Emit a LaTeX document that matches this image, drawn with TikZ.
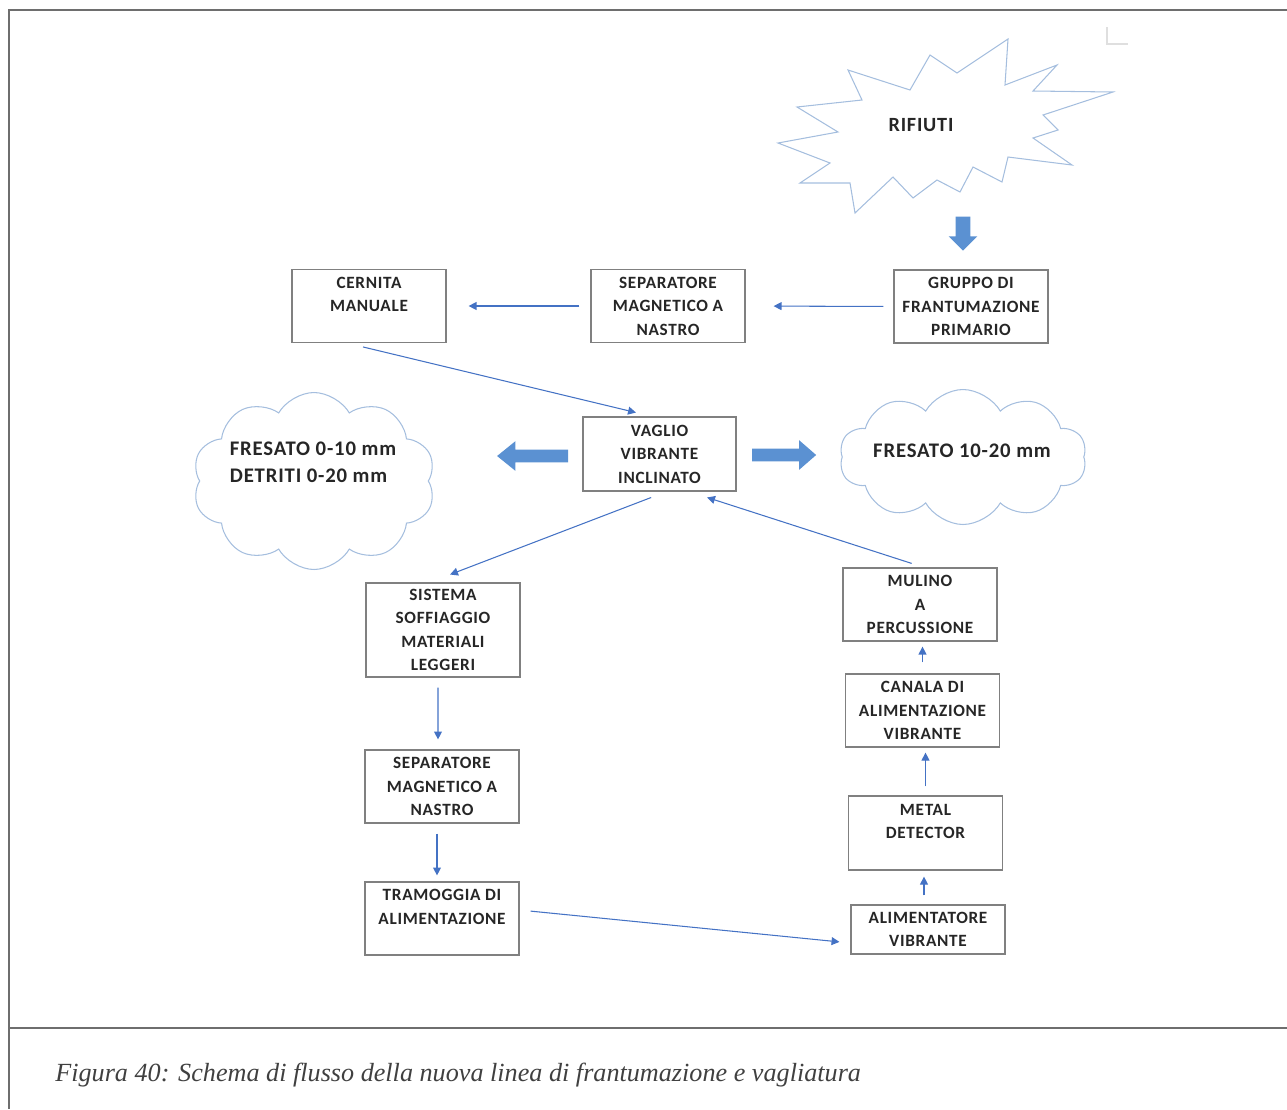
\documentclass[tikz,border=0pt]{standalone}
\usepackage{fontspec}
\usepackage{tikz}
\usetikzlibrary{shapes.symbols, shapes.arrows, arrows.meta}
\newfontfamily\boxfont[LetterSpace=4]{Carlito}
\newfontfamily\capfont{Liberation Serif}
\definecolor{flowblue}{RGB}{68,114,196}
\definecolor{fatblue}{RGB}{91,145,210}
\definecolor{cloudblue}{RGB}{165,190,222}
\definecolor{boxgray}{RGB}{128,128,128}
\definecolor{framegray}{RGB}{110,110,110}

\begin{document}
\begin{tikzpicture}[
  x=0.02cm, y=-0.02cm,
  block/.style={rectangle, draw=boxgray, line width=0.7pt, fill=white,
                minimum width=3.08cm, minimum height=1.46cm, inner sep=2pt,
                align=center, text=black!85,
                font=\boxfont\bfseries\fontsize{9.8}{13.4}\selectfont},
  puff/.style={cloud, cloud puffs=10, cloud puff arc=120, cloud ignores aspect,
               draw=cloudblue, line width=0.6pt},
  puffText/.style={align=left, text=black!85,
                   font=\boxfont\bfseries\fontsize{11.8}{15.5}\selectfont},
  fat/.style={single arrow, fill=fatblue, draw=none,
              single arrow head indent=0pt},
  flow/.style={-{Triangle[length=4.5pt, width=4.5pt]}, draw=flowblue, line width=0.6pt}
]
  \useasboundingbox (0,0) rectangle (1287,1109);

  % frame and caption
  \draw[framegray, line width=1.1pt] (1287,10) -- (9,10) -- (9,1109);
  \draw[framegray, line width=1.1pt] (9,1028) -- (1287,1028);
  \draw[gray!25, line width=0.6pt] (1107,27) -- (1107,44) -- (1128,44);
  \node[anchor=base west, inner sep=0pt, text=black!75,
        font=\capfont\itshape\fontsize{14.9}{18}\selectfont] (caption) at (55,1081)
    {Figura 40: Schema di flusso della nuova linea di frantumazione e vagliatura};

  % rifiuti
  \draw[cloudblue, line width=0.6pt]
    (1008,39) -- (1005,85) -- (1057,65) -- (1033,91) -- (1113,92) -- (1043,115)
    -- (1058,130) -- (1033,138) -- (1072,165) -- (1008,157) -- (1002,182)
    -- (973,167) -- (960,192) -- (937,180) -- (913,198) -- (893,177) -- (855,213)
    -- (850,183) -- (800,183) -- (830,163) -- (778,143) -- (838,132) -- (797,107)
    -- (862,100) -- (848,70) -- (910,90) -- (930,55) -- (957,73) -- cycle;
  \node[text=black!85, font=\boxfont\bfseries\fontsize{11.5}{14}\selectfont] (rifiuti) at (921,125) {RIFIUTI};
  \node[fat, shape border rotate=270, inner sep=0.14cm, minimum height=0.68cm,
        single arrow head extend=0.14cm] (down) at (963,230) {};

  % top row
  \node[block] (gruppo) at (971,306.5) {GRUPPO DI\\FRANTUMAZIONE\\PRIMARIO};
  \node[block] (sep1)   at (668,306)   {SEPARATORE\\MAGNETICO A\\NASTRO};
  \node[block] (cernita) at (369,306)  {CERNITA\\MANUALE\\~};

  % vaglio and outputs
  \node[block, minimum width=3.06cm, minimum height=1.48cm] (vaglio) at (659.5,454)
    {VAGLIO\\VIBRANTE\\INCLINATO};
  \node[puff, minimum width=4.86cm, minimum height=3.54cm] (fine) at (314,481) {};
  \node[puffText] (fineTxt) at (313,462) {FRESATO 0-10 mm\\DETRITI 0-20 mm};
  \node[puff, minimum width=4.94cm, minimum height=2.7cm] (coarse) at (963,457) {};
  \node[puffText] (coarseTxt) at (962,451) {FRESATO 10-20 mm};
  \node[fat, shape border rotate=180, inner sep=0.12cm, minimum height=1.42cm,
        single arrow tip angle=78, single arrow head extend=0.17cm] (toFine) at (536.5,456) {};
  \node[fat, inner sep=0.12cm, minimum height=1.28cm,
        single arrow tip angle=82, single arrow head extend=0.17cm] (toCoarse) at (780.5,455) {};

  % left branch
  \node[block, minimum height=1.88cm] (sistema) at (443,630)
    {SISTEMA\\SOFFIAGGIO\\MATERIALI\\LEGGERI};
  \node[block] (sep2) at (442,786.5) {SEPARATORE\\MAGNETICO A\\NASTRO};
  \node[block] (tram) at (442,918.5) {TRAMOGGIA DI\\ALIMENTAZIONE\\~};

  % right branch
  \node[block, minimum height=0.98cm] (alim) at (928,929.5) {ALIMENTATORE\\VIBRANTE};
  \node[block, minimum height=1.48cm] (metal) at (925.5,833) {METAL\\DETECTOR\\~};
  \node[block] (canala) at (922.5,710.5) {CANALA DI\\ALIMENTAZIONE\\VIBRANTE};
  \node[block] (mulino) at (920,604.5) {MULINO\\A\\PERCUSSIONE};

  % connectors
  \draw[flow, shorten <=0.2cm, shorten >=0.56cm] (gruppo.west) -- (sep1.east);
  \draw[flow, shorten <=0.22cm, shorten >=0.44cm] (sep1.west) -- (cernita.east);
  \draw[flow, shorten <=0.33cm, shorten >=0.33cm]
    ([xshift=-0.44cm]cernita.south) -- ([xshift=-0.15cm]vaglio.north);
  \draw[flow, shorten <=0.33cm, shorten >=0.44cm]
    ([xshift=0.14cm]vaglio.south) -- ([xshift=-0.27cm]sistema.north);
  \draw[flow, shorten <=0.2cm, shorten >=0.2cm]
    ([xshift=-0.1cm]sistema.south) -- ([xshift=-0.08cm]sep2.north);
  \draw[flow, shorten <=0.2cm, shorten >=0.12cm]
    ([xshift=-0.1cm]sep2.south) -- ([xshift=-0.1cm]tram.north);
  \draw[flow, shorten <=0.22cm, shorten >=0.22cm]
    ([yshift=0.17cm]tram.east) -- ([yshift=-0.27cm]alim.west);
  \draw[flow, shorten <=0.18cm, shorten >=0.12cm]
    ([xshift=-0.08cm]alim.north) -- ([xshift=-0.08cm]alim.north |- metal.south);
  \draw[flow, shorten <=0.18cm, shorten >=0.1cm]
    (metal.north) -- (metal.north |- canala.south);
  \draw[flow, shorten <=0.22cm, shorten >=0.1cm]
    (canala.north) -- (canala.north |- mulino.south);
  \draw[flow, shorten <=0.26cm, shorten >=0.38cm]
    ([xshift=0.08cm]mulino.north) -- ([xshift=0.59cm]vaglio.south);
\end{tikzpicture}
\end{document}
